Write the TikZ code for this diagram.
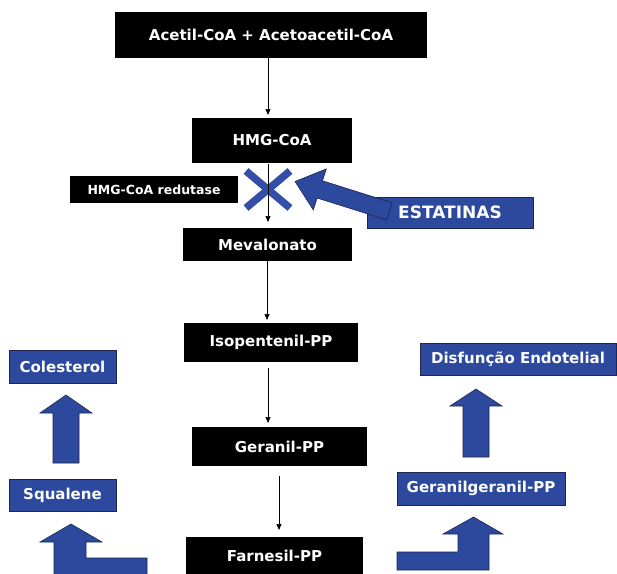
\documentclass[tikz,border=0pt]{standalone}
\usepackage{fontspec}
\setmainfont{DejaVu Sans}
\usetikzlibrary{arrows.meta}
\definecolor{boxblue}{RGB}{44,73,158}
\definecolor{edgeblue}{RGB}{28,38,78}
\definecolor{xblue}{RGB}{52,78,168}
\tikzset{
  blackbox/.style={fill=black,text=white,inner sep=0pt,outer sep=0pt,
    font=\fontsize{15}{18}\selectfont\bfseries},
  bluebox/.style={fill=boxblue,draw=edgeblue,line width=0.6pt,text=white,inner sep=0pt,outer sep=0pt,
    font=\fontsize{15}{18}\selectfont\bfseries},
  thinarrow/.style={-{Triangle[width=5pt,length=6pt]},line width=0.7pt},
  blockarrow/.style={fill=boxblue,draw=edgeblue,line width=0.6pt,line join=miter},
  crossbar/.style={draw=xblue,line width=7.5pt,line cap=butt},
}
\begin{document}
\begin{tikzpicture}[x=1pt,y=-1pt]
\useasboundingbox (0,0) rectangle (617,573);
\clip (0,0) rectangle (617,573);
% main pathway
\node[blackbox,minimum width=312pt,minimum height=46pt] (acetil) at (271,35) {Acetil-CoA + Acetoacetil-CoA};
\node[blackbox,minimum width=160pt,minimum height=45pt] (hmg) at (272,140.5) {HMG-CoA};
\node[blackbox,minimum width=168pt,minimum height=27pt,font=\fontsize{12.5}{15}\selectfont\bfseries] (redutase) at (154,189.5) {HMG-CoA redutase};
\node[blackbox,minimum width=169pt,minimum height=33pt] (meva) at (267.5,244.5) {Mevalonato};
\node[blackbox,minimum width=174pt,minimum height=39pt] (iso) at (271,342.5) {Isopentenil-PP};
\node[blackbox,minimum width=175pt,minimum height=39pt] (geranil) at (279.5,446.5) {Geranil-PP};
\node[blackbox,minimum width=177pt,minimum height=38pt] (farnesil) at (274.5,556) {Farnesil-PP};
% side boxes
\node[bluebox,minimum width=107pt,minimum height=33pt] (colesterol) at (62.5,366.5) {Colesterol};
\node[bluebox,minimum width=107pt,minimum height=32pt] (squalene) at (62.5,495) {Squalene};
\node[bluebox,minimum width=196pt,minimum height=32pt] (disf) at (518,359) {Disfunção Endotelial};
\node[bluebox,minimum width=168pt,minimum height=33pt] (gg) at (481,488.5) {Geranilgeranil-PP};
\node[bluebox,minimum width=166pt,minimum height=31pt] (estatinas) at (450,212.5) {};
% inhibition cross
\coordinate (xa) at (246,171);
\coordinate (xb) at (290,208);
\coordinate (xc) at (290,171);
\coordinate (xd) at (246,208);
\draw[crossbar] (xa) -- (xb);
\draw[crossbar] (xc) -- (xd);
% thin arrows
\coordinate (c268) at (268,0);
\coordinate (c267) at (267,0);
\coordinate (c279) at (279,0);
\draw[thinarrow,shorten >=3pt] (acetil.south -| c268) -- (hmg.north -| c268);
\draw[thinarrow,shorten >=6pt,shorten <=1pt] (hmg.south -| c268) -- (meva.north -| c268);
\draw[thinarrow,shorten >=3pt] (meva.south -| c267) -- (iso.north -| c267);
\draw[thinarrow,shorten >=4pt,shorten <=6pt] (iso.south -| c268) -- (geranil.north -| c268);
\draw[thinarrow,shorten >=7pt,shorten <=10pt] (geranil.south -| c279) -- (farnesil.north -| c279);
% statin arrow
\draw[blockarrow] (295,181.5) -- (326.3,168.9) -- (322.5,180.8) -- (392,202.7)
  -- (386.6,219.9) -- (317.1,198) -- (313.3,209.9) -- cycle;
\node[text=white,font=\fontsize{17}{20}\selectfont\bfseries] (estlabel) at (450,212) {ESTATINAS};
% block arrows
\draw[blockarrow] (53,463) -- (53,413) -- (40,413) -- (66,395) -- (92,413) -- (79,413) -- (79,463) -- cycle;
\draw[blockarrow] (463,457) -- (463,406) -- (450,406) -- (476,389) -- (502,406) -- (489,406) -- (489,457) -- cycle;
\draw[blockarrow] (54,580) -- (54,542) -- (40,542) -- (71,524) -- (102,542) -- (86,542) -- (86,558)
  -- (147,558) -- (147,580) -- cycle;
\draw[blockarrow] (397,552) -- (458,552) -- (458,534) -- (443,534) -- (473.5,517) -- (503,534)
  -- (489,534) -- (489,570) -- (397,570) -- cycle;
\end{tikzpicture}
\end{document}
